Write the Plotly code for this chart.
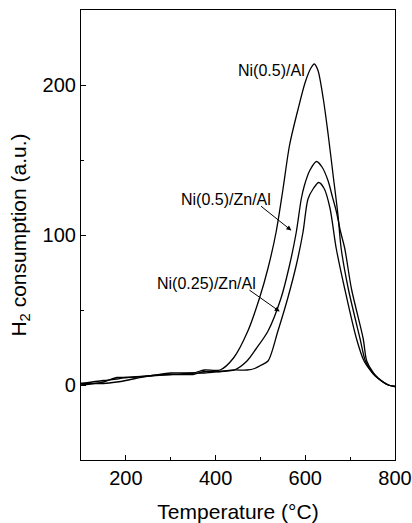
import plotly.graph_objects as go

# TPR profiles: temperature (°C) vs H2 consumption (a.u.)
ni05_al_t = [100, 150, 180, 200, 250, 300, 350, 375, 410, 440, 472, 498, 517, 535, 550, 565, 584,
             600, 612, 620, 628, 640, 651, 662, 673, 680, 696, 722, 734, 750, 762, 785, 800]
ni05_al_h2 = [1, 3, 4, 5, 6, 7, 8, 10, 10, 18, 36, 58, 78, 102, 130, 160, 184,
              202, 211, 214, 210, 191, 167, 140, 113, 91, 64, 31, 16, 8, 4.5, 0, -1]

ni05_zn_al_t = [100, 150, 180, 200, 250, 300, 350, 375, 410, 442, 470, 490, 517, 546, 565, 580, 591,
                598, 610, 625, 638, 651, 660, 669, 678, 688, 703, 729, 737, 752, 763, 785, 800]
ni05_zn_al_h2 = [0, 2, 5, 5, 6, 8, 8, 8, 9, 10, 16, 24, 36, 58, 80, 102, 124,
                 133, 143, 149, 145, 136, 126, 116, 103, 91, 64, 31, 16, 8, 4.5, 0, -1]

ni025_zn_al_t = [100, 150, 180, 200, 250, 300, 350, 375, 410, 440, 470, 487, 500, 517, 539, 561, 580,
                 595, 606, 618, 630, 642, 655, 669, 688, 714, 731, 750, 762, 785, 800]
ni025_zn_al_h2 = [1, 1, 2, 3, 6, 7, 7, 9, 9, 10, 10, 11, 13, 16, 36, 58, 80,
                  102, 124, 131, 135, 131, 118, 91, 64, 31, 16, 8, 4.5, 0, -1]

series = [
    ("Ni(0.5)/Al", ni05_al_t, ni05_al_h2),
    ("Ni(0.5)/Zn/Al", ni05_zn_al_t, ni05_zn_al_h2),
    ("Ni(0.25)/Zn/Al", ni025_zn_al_t, ni025_zn_al_h2),
]

fig = go.Figure()
for name, t, h in series:
    fig.add_trace(go.Scatter(x=t, y=h, mode="lines", name=name,
                             line=dict(color="black", width=1.3, shape="spline", smoothing=0.8)))

font = "Liberation Sans, Arial, sans-serif"

# labels
fig.add_annotation(x=603, y=210, text="Ni(0.5)/Al", showarrow=False, xanchor="right", yanchor="middle",
                   font=dict(size=16, color="black", family=font))
fig.add_annotation(x=423, y=124, text="Ni(0.5)/Zn/Al", showarrow=False, xanchor="center", yanchor="middle",
                   font=dict(size=16, color="black", family=font))
fig.add_annotation(x=380, y=68, text="Ni(0.25)/Zn/Al", showarrow=False, xanchor="center", yanchor="middle",
                   font=dict(size=16, color="black", family=font))

# arrows
for (hx, hy, tx, ty) in [(569, 103, 498, 120), (543, 49, 472, 64)]:
    fig.add_annotation(x=hx, y=hy, ax=tx, ay=ty, xref="x", yref="y", axref="x", ayref="y",
                       text="", showarrow=True, arrowhead=2, arrowsize=1, arrowwidth=1, arrowcolor="black")

axis_common = dict(
    showline=True, linecolor="black", linewidth=1.2, mirror=True,
    ticks="inside", ticklen=5, tickwidth=1, tickcolor="black",
    showgrid=False, zeroline=False, automargin=False, ticklabeloverflow="allow",
    tickfont=dict(size=20, color="black", family=font),
    minor=dict(ticks="inside", ticklen=3, tickcolor="black", showgrid=False),
)

fig.update_layout(
    width=412, height=523,
    margin=dict(l=81, r=17, t=10, b=63),
    paper_bgcolor="white", plot_bgcolor="white",
    showlegend=False,
    font=dict(family=font, color="black"),
    xaxis=dict(range=[100, 800], tickvals=[200, 400, 600, 800], minor_dtick=100,
               title=dict(text="Temperature (°C)", font=dict(size=21, color="black"), standoff=17),
               **axis_common),
    yaxis=dict(range=[-50, 250], tickvals=[0, 100, 200], minor_dtick=50,
               title=dict(text="H<sub>2</sub> consumption (a.u.)", font=dict(size=21, color="black"), standoff=10),
               **axis_common),
)

# drop the default 8px body margin so the figure fills the window exactly
fig.write_html("out.html", config={"displayModeBar": False},
               post_script="document.body.style.margin='0';")
